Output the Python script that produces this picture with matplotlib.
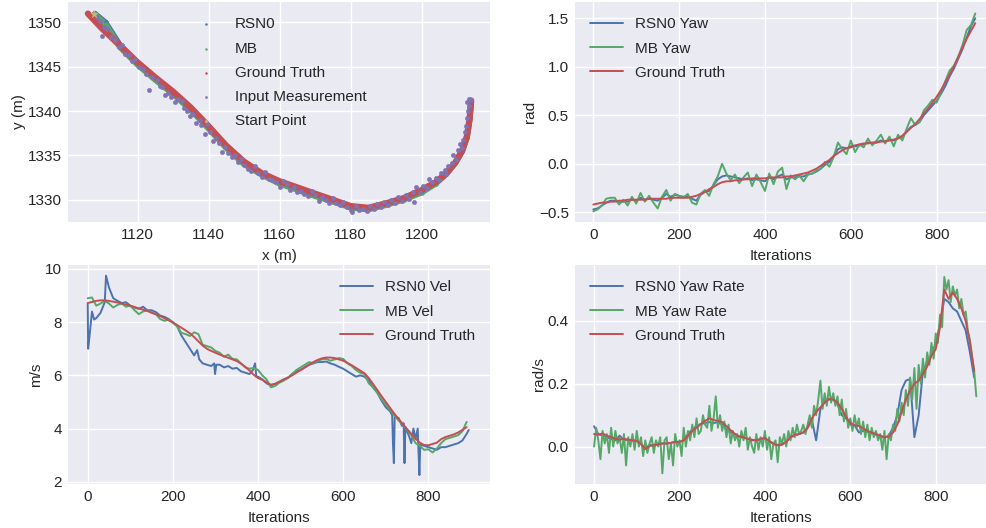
import numpy as np
import matplotlib
matplotlib.use("Agg")
import matplotlib.pyplot as plt

plt.style.use("seaborn-v0_8")
plt.rcParams["font.family"] = ["Liberation Sans", "DejaVu Sans"]
plt.rcParams["font.size"] = 11
plt.rcParams["axes.labelsize"] = 11
plt.rcParams["xtick.labelsize"] = 11
plt.rcParams["ytick.labelsize"] = 11
plt.rcParams["xtick.major.pad"] = 4.5
plt.rcParams["ytick.major.pad"] = 4.5
plt.rcParams["legend.fontsize"] = 11
plt.rcParams["legend.handlelength"] = 2.16
plt.rcParams["legend.handletextpad"] = 0.78
plt.rcParams["legend.labelspacing"] = 0.67
plt.rcParams["legend.borderaxespad"] = 0.6

BLUE, GREEN, RED, PURPLE, GOLD = "#4C72B0", "#55A868", "#C44E52", "#8172B2", "#CCB974"

# ---- trajectory (x, y in m) ----
gt_x = [1106, 1110, 1115, 1120, 1125, 1130, 1135, 1140, 1145, 1150, 1155, 1160, 1165, 1170,
        1175, 1180, 1185, 1190, 1195, 1200, 1204, 1207, 1209.5, 1211.5, 1212.8, 1213.5, 1214]
gt_y = [1351.0, 1349.3, 1347.4, 1345.5, 1343.8, 1342.2, 1340.4, 1338.3, 1336.1, 1334.3, 1333.0,
        1332.1, 1331.4, 1330.7, 1330.0, 1329.3, 1329.1, 1329.6, 1330.2, 1331.1, 1332.0, 1333.0,
        1334.2, 1335.6, 1337.2, 1339.0, 1341.2]
mb_x = [1108, 1111, 1115, 1120, 1125, 1130, 1135, 1140, 1145, 1150, 1155, 1160, 1165, 1170,
        1175, 1180, 1185, 1190, 1195, 1200, 1204, 1207, 1209.5, 1211.5, 1212.8, 1213.5, 1214]
mb_y = [1350.9, 1349.8, 1347.2, 1345.2, 1343.5, 1341.9, 1340.1, 1338.0, 1335.8, 1334.0, 1332.8,
        1331.8, 1331.1, 1330.4, 1329.8, 1329.1, 1328.9, 1329.4, 1330.0, 1330.8, 1331.8, 1332.9,
        1334.1, 1335.5, 1337.0, 1338.8, 1341.0]
rsn0_x = mb_x
rsn0_y = [1351.0, 1350.0, 1347.5, 1345.4, 1343.7, 1342.0, 1340.2, 1338.2, 1336.0, 1334.2, 1332.9,
          1332.0, 1331.2, 1330.5, 1329.9, 1329.2, 1329.0, 1329.5, 1330.1, 1331.0, 1331.9, 1332.9,
          1334.2, 1335.5, 1337.1, 1338.9, 1341.1]
meas_x = [1108.5, 1109.5, 1110.5, 1109.9, 1111.5, 1112.5, 1113.5, 1114.8, 1115.5, 1116.5, 1117.5,
          1118.5, 1119.2, 1120.5, 1121.5, 1122.5, 1123.2, 1124.0, 1125.5, 1126.2, 1127.0, 1127.8,
          1128.5, 1129.5, 1130.5, 1131.5, 1132.5, 1133.0, 1134.0, 1134.8, 1135.5, 1136.5, 1137.5,
          1138.0, 1139.0, 1139.5, 1140.5, 1141.2, 1142.0, 1143.0, 1143.8, 1144.5, 1145.5, 1146.5,
          1147.5, 1148.2, 1149.0, 1150.0, 1151.0, 1152.0, 1153.0, 1154.0, 1155.0, 1156.0, 1157.0,
          1158.0, 1159.0, 1160.0, 1161.0, 1162.0, 1163.0, 1164.0, 1165.0, 1166.0, 1167.0, 1168.0,
          1169.0, 1170.0, 1171.0, 1172.0, 1173.0, 1174.0, 1175.0, 1176.0, 1177.0, 1178.0, 1179.0,
          1180.0, 1180.5, 1181.5, 1182.5, 1183.5, 1184.5, 1185.5, 1186.5, 1187.5, 1188.5, 1189.5,
          1190.5, 1191.5, 1192.5, 1193.5, 1194.5, 1195.5, 1196.5, 1197.5, 1198.0, 1198.5, 1199.5,
          1200.5, 1201.5, 1202.0, 1203.0, 1204.0, 1205.0, 1205.5, 1206.5, 1207.0, 1207.5, 1208.5,
          1209.0, 1209.8, 1210.3, 1210.8, 1211.3, 1211.8, 1212.2, 1212.5, 1212.8, 1213.0, 1213.3,
          1213.5, 1212.9, 1214.0]
meas_y = [1350.6, 1350.2, 1349.5, 1348.5, 1349.3, 1348.4, 1348.0, 1347.2, 1347.4, 1346.4, 1346.3,
          1345.7, 1345.9, 1345.0, 1344.8, 1344.2, 1342.4, 1343.9, 1343.5, 1342.8, 1342.7, 1341.8,
          1342.0, 1341.6, 1341.0, 1341.4, 1341.1, 1340.3, 1340.0, 1339.4, 1339.7, 1338.7, 1339.0,
          1338.4, 1337.4, 1338.6, 1337.7, 1336.6, 1337.0, 1336.4, 1335.4, 1336.0, 1335.3, 1334.8,
          1335.0, 1334.3, 1334.6, 1333.9, 1333.5, 1333.2, 1333.8, 1333.0, 1332.6, 1333.1, 1332.4,
          1332.2, 1332.0, 1331.4, 1332.1, 1331.8, 1331.1, 1331.5, 1330.9, 1331.0, 1330.7, 1330.4,
          1331.0, 1330.5, 1329.9, 1330.3, 1330.0, 1329.6, 1330.2, 1329.7, 1329.4, 1329.8, 1329.2,
          1328.9, 1328.6, 1329.3, 1328.8, 1329.0, 1328.7, 1329.3, 1329.0, 1329.5, 1329.2, 1329.8,
          1329.4, 1330.0, 1329.7, 1330.3, 1329.9, 1330.6, 1330.1, 1330.9, 1329.8, 1331.4, 1330.9,
          1331.6, 1331.3, 1332.4, 1332.0, 1332.5, 1332.2, 1333.0, 1333.4, 1332.9, 1333.8, 1334.2,
          1335.1, 1334.6, 1335.6, 1336.3, 1335.8, 1336.8, 1337.6, 1338.3, 1339.2, 1340.0, 1340.6,
          1341.4, 1341.0, 1341.2]
start_x = [1107.6]
start_y = [1350.9]

# ---- yaw (rad), every 10 iterations ----
it10 = np.arange(0, 900, 10)
gt_yaw = [-0.42, -0.41, -0.40, -0.40, -0.39, -0.39, -0.38, -0.38, -0.37, -0.37,
          -0.37, -0.37, -0.37, -0.36, -0.36, -0.36, -0.36, -0.36, -0.35, -0.35,
          -0.35, -0.35, -0.35, -0.34, -0.33, -0.31, -0.29, -0.26, -0.24, -0.21,
          -0.19, -0.18, -0.18, -0.17, -0.17, -0.16, -0.16, -0.15, -0.15, -0.15,
          -0.15, -0.14, -0.14, -0.14, -0.14, -0.13, -0.13, -0.12, -0.11, -0.10,
          -0.09, -0.07, -0.05, -0.02, 0.01, 0.04, 0.08, 0.11, 0.14, 0.16,
          0.18, 0.19, 0.20, 0.21, 0.21, 0.22, 0.22, 0.23, 0.23, 0.24,
          0.25, 0.26, 0.29, 0.33, 0.37, 0.41, 0.46, 0.52, 0.57, 0.63,
          0.69, 0.76, 0.84, 0.92, 1.00, 1.10, 1.20, 1.29, 1.37, 1.45]
mb_yaw = [-0.49, -0.47, -0.43, -0.36, -0.35, -0.35, -0.42, -0.37, -0.43, -0.34,
          -0.41, -0.30, -0.39, -0.33, -0.40, -0.46, -0.34, -0.27, -0.38, -0.31,
          -0.33, -0.35, -0.31, -0.40, -0.42, -0.31, -0.27, -0.33, -0.21, -0.13,
          0.00, -0.10, -0.17, -0.11, -0.20, -0.14, -0.09, -0.23, -0.11, -0.19,
          -0.28, -0.10, -0.21, -0.08, -0.04, -0.26, -0.12, -0.16, -0.12, -0.18,
          -0.11, -0.10, -0.07, -0.05, 0.02, -0.03, 0.07, 0.22, 0.15, 0.10,
          0.24, 0.12, 0.20, 0.17, 0.26, 0.19, 0.24, 0.30, 0.21, 0.28,
          0.18, 0.30, 0.24, 0.36, 0.47, 0.40, 0.43, 0.55, 0.60, 0.66,
          0.63, 0.74, 0.85, 0.96, 1.01, 1.10, 1.22, 1.38, 1.43, 1.55]
rsn0_yaw = [-0.47, -0.46, -0.43, -0.40, -0.38, -0.38, -0.40, -0.39, -0.39, -0.37,
            -0.38, -0.35, -0.37, -0.36, -0.37, -0.38, -0.35, -0.31, -0.34, -0.32,
            -0.33, -0.34, -0.33, -0.36, -0.38, -0.32, -0.29, -0.28, -0.22, -0.16,
            -0.13, -0.12, -0.13, -0.14, -0.15, -0.16, -0.15, -0.17, -0.16, -0.17,
            -0.18, -0.14, -0.16, -0.13, -0.11, -0.16, -0.14, -0.14, -0.13, -0.13,
            -0.11, -0.10, -0.08, -0.05, -0.01, 0.02, 0.08, 0.15, 0.17, 0.16,
            0.17, 0.18, 0.19, 0.20, 0.22, 0.21, 0.22, 0.24, 0.23, 0.25,
            0.24, 0.27, 0.28, 0.33, 0.38, 0.40, 0.43, 0.50, 0.55, 0.60,
            0.65, 0.72, 0.80, 0.90, 0.98, 1.08, 1.18, 1.30, 1.42, 1.50]

# ---- velocity (m/s) ----
gt_vel = [8.72, 8.76, 8.80, 8.82, 8.82, 8.80, 8.77, 8.74, 8.70, 8.66,
          8.62, 8.57, 8.52, 8.47, 8.42, 8.36, 8.30, 8.23, 8.15, 8.07,
          7.99, 7.89, 7.79, 7.69, 7.58, 7.44, 7.28, 7.12, 7.00, 6.92,
          6.85, 6.78, 6.72, 6.66, 6.60, 6.54, 6.44, 6.32, 6.18, 6.02,
          5.90, 5.83, 5.74, 5.65, 5.68, 5.76, 5.84, 5.92, 6.00, 6.10,
          6.20, 6.30, 6.40, 6.50, 6.58, 6.64, 6.67, 6.67, 6.65, 6.60,
          6.55, 6.47, 6.38, 6.28, 6.18, 6.08, 5.90, 5.68, 5.45, 5.22,
          5.00, 4.78, 4.56, 4.36, 4.17, 3.98, 3.80, 3.62, 3.47, 3.38,
          3.37, 3.42, 3.47, 3.60, 3.68, 3.73, 3.78, 3.85, 3.95, 4.05]
mb_vel = [8.90, 8.93, 8.62, 8.70, 8.80, 8.70, 8.55, 8.65, 8.70, 8.58,
          8.62, 8.45, 8.30, 8.40, 8.45, 8.35, 8.30, 8.12, 8.05, 8.10,
          7.98, 7.85, 7.60, 7.55, 7.48, 7.62, 7.55, 7.15, 7.10, 7.05,
          6.92, 6.85, 6.70, 6.78, 6.62, 6.60, 6.45, 6.30, 6.25, 6.28,
          6.20, 6.00, 5.85, 5.55, 5.60, 5.72, 5.80, 5.90, 6.05, 6.20,
          6.30, 6.40, 6.50, 6.45, 6.55, 6.60, 6.62, 6.55, 6.60, 6.65,
          6.62, 6.45, 6.35, 6.20, 6.10, 6.05, 5.70, 5.55, 5.35, 5.10,
          4.90, 4.70, 4.50, 4.30, 4.15, 3.95, 3.75, 3.45, 3.35, 3.20,
          3.22, 3.10, 3.25, 3.45, 3.60, 3.65, 3.70, 3.75, 3.90, 4.25]
rsn0_vel_it = [0, 1, 5, 10, 15, 20, 30, 40, 43, 50, 60, 70, 80, 90, 100, 110, 120, 130, 140,
               150, 160, 170, 180, 190, 200, 210, 220, 230, 240, 250, 257, 262, 270, 280, 290,
               297, 299, 302, 310, 320, 330, 340, 350, 360, 370, 380, 388, 393, 396, 400, 410,
               420, 430, 440, 450, 460, 470, 480, 490, 500, 510, 520, 530, 540, 550, 560, 570,
               580, 590, 600, 610, 620, 630, 640, 650, 660, 670, 680, 690, 700, 710, 715, 717,
               719, 721, 730, 738, 742, 744, 746, 755, 760, 765, 770, 775, 777, 779, 781, 790,
               800, 810, 820, 830, 840, 850, 860, 870, 880, 890, 895]
rsn0_vel = [8.70, 7.00, 7.60, 8.40, 8.10, 8.15, 8.35, 8.75, 9.75, 9.30, 8.90, 8.80, 8.72, 8.75,
            8.62, 8.55, 8.50, 8.58, 8.45, 8.45, 8.38, 8.25, 8.20, 8.12, 8.00, 7.85, 7.50, 7.25,
            7.00, 6.75, 6.95, 6.60, 6.45, 6.40, 6.35, 6.45, 6.05, 6.40, 6.40, 6.30, 6.35, 6.25,
            6.28, 6.15, 6.10, 6.05, 6.20, 6.45, 5.95, 5.95, 5.85, 5.70, 5.62, 5.68, 5.75, 5.85,
            5.90, 6.05, 6.15, 6.20, 6.30, 6.40, 6.45, 6.50, 6.50, 6.52, 6.45, 6.40, 6.32, 6.25,
            6.15, 6.05, 5.95, 6.00, 5.95, 5.80, 5.55, 5.35, 5.05, 4.80, 4.65, 4.50, 3.40, 2.70,
            4.45, 4.40, 4.10, 4.20, 2.70, 4.05, 3.70, 3.45, 4.00, 3.60, 4.00, 3.10, 2.25, 3.40,
            3.35, 3.30, 3.25, 3.20, 3.30, 3.30, 3.35, 3.40, 3.45, 3.55, 3.80, 3.95]

# ---- yaw rate (rad/s) ----
gt_yr = [0.040, 0.038, 0.042, 0.035, 0.030, 0.025, 0.022, 0.025, 0.022, 0.020,
         0.018, 0.008, -0.008, 0.002, 0.004, 0.007, 0.010, 0.010, 0.012, 0.015,
         0.015, 0.020, 0.035, 0.050, 0.060, 0.072, 0.082, 0.090, 0.085, 0.082,
         0.078, 0.065, 0.052, 0.040, 0.032, 0.030, 0.025, 0.020, 0.020, 0.025,
         0.028, 0.018, 0.008, 0.004, 0.006, 0.015, 0.030, 0.038, 0.040, 0.045,
         0.060, 0.090, 0.110, 0.125, 0.140, 0.152, 0.150, 0.140, 0.120, 0.095,
         0.075, 0.068, 0.066, 0.058, 0.050, 0.045, 0.040, 0.035, 0.030, 0.032,
         0.045, 0.070, 0.110, 0.150, 0.180, 0.200, 0.210, 0.230, 0.255, 0.290,
         0.310, 0.380, 0.500, 0.470, 0.490, 0.470, 0.440, 0.400, 0.330, 0.240]
rsn0_yr = [0.065, 0.040, 0.035, 0.030, 0.025, 0.020, 0.035, 0.020, 0.022, 0.020,
           0.018, 0.008, -0.005, 0.005, 0.006, 0.008, 0.010, 0.010, 0.012, 0.015,
           0.015, 0.020, 0.040, 0.055, 0.065, 0.072, 0.075, 0.078, 0.075, 0.078,
           0.070, 0.055, 0.045, 0.040, 0.032, 0.028, 0.025, 0.022, 0.020, 0.022,
           0.025, 0.018, 0.010, 0.005, 0.008, 0.015, 0.030, 0.035, 0.040, 0.045,
           0.060, 0.085, 0.020, 0.120, 0.145, 0.150, 0.150, 0.135, 0.100, 0.090,
           0.070, 0.068, 0.045, 0.050, 0.048, 0.042, 0.038, 0.032, 0.028, 0.035,
           0.060, 0.100, 0.180, 0.210, 0.215, 0.030, 0.100, 0.240, 0.270, 0.290,
           0.330, 0.390, 0.470, 0.460, 0.440, 0.430, 0.400, 0.370, 0.300, 0.220]
it5 = np.arange(0, 900, 5)
mb_yr = [0.00, 0.06, 0.02, -0.04, 0.05, 0.01, 0.04, -0.02, 0.06, 0.00,
         0.05, 0.01, 0.03, -0.02, 0.04, -0.06, 0.03, 0.00, 0.04, -0.01,
         0.05, 0.00, 0.03, -0.03, 0.02, -0.02, 0.01, 0.03, -0.02, 0.02,
         0.00, 0.03, -0.085, 0.02, 0.03, -0.04, 0.01, -0.06, 0.04, 0.00,
         0.02, -0.03, 0.06, 0.00, 0.05, 0.02, 0.07, 0.03, 0.09, 0.04,
         0.05, 0.10, 0.07, 0.06, 0.13, 0.05, 0.09, 0.16, 0.06, 0.10,
         0.05, 0.08, 0.03, 0.07, 0.01, 0.05, 0.02, 0.04, 0.00, 0.05,
         0.02, 0.06, -0.01, 0.03, 0.00, -0.02, 0.04, -0.01, 0.03, 0.00,
         0.05, -0.01, 0.03, -0.04, 0.01, 0.02, -0.05, 0.03, 0.01, 0.04,
         0.00, 0.05, 0.02, 0.06, 0.03, 0.07, 0.04, 0.05, 0.07, 0.04,
         0.07, 0.10, 0.06, 0.13, 0.10, 0.15, 0.21, 0.12, 0.17, 0.13,
         0.19, 0.14, 0.17, 0.13, 0.16, 0.10, 0.15, 0.08, 0.12, 0.06,
         0.09, 0.05, 0.10, 0.06, 0.09, 0.04, 0.08, 0.03, 0.07, 0.02,
         0.06, 0.03, 0.05, 0.02, 0.04, -0.01, 0.05, -0.04, 0.04, 0.02,
         0.07, 0.05, 0.12, 0.08, 0.14, 0.10, 0.18, 0.13, 0.22, 0.15,
         0.25, 0.12, 0.26, 0.20, 0.28, 0.22, 0.30, 0.26, 0.33, 0.28,
         0.36, 0.33, 0.42, 0.38, 0.54, 0.50, 0.53, 0.46, 0.51, 0.48,
         0.50, 0.44, 0.47, 0.42, 0.43, 0.37, 0.34, 0.29, 0.24, 0.16]

fig = plt.figure(figsize=(9.87, 5.28), dpi=100)
ax1 = fig.add_axes([0.0689, 0.5795, 0.4276, 0.4167])
ax2 = fig.add_axes([0.5826, 0.5795, 0.4174, 0.4167])
ax3 = fig.add_axes([0.0689, 0.0833, 0.4276, 0.4148])
ax4 = fig.add_axes([0.5826, 0.0833, 0.4174, 0.4148])

# trajectory
ax1.plot(rsn0_x, rsn0_y, color=BLUE, lw=4, zorder=2)
ax1.plot(mb_x, mb_y, color=GREEN, lw=4, zorder=2)
ax1.plot(gt_x, gt_y, color=RED, lw=4.5, zorder=3)
ax1.scatter(rsn0_x, rsn0_y, s=8, color=BLUE, label="RSN0", zorder=2)
ax1.scatter(mb_x, mb_y, s=8, color=GREEN, label="MB", zorder=2)
ax1.scatter(gt_x, gt_y, s=8, color=RED, label="Ground Truth", zorder=3)
ax1.scatter(meas_x, meas_y, s=10, color=PURPLE, label="Input Measurement", zorder=4)
ax1.scatter(start_x, start_y, s=30, marker="*", color=GOLD, label="Start Point", zorder=5)
ax1.set_xlim(1100.4, 1219.3)
ax1.set_ylim(1327.5, 1352.3)
ax1.set_xticks([1120, 1140, 1160, 1180, 1200])
ax1.set_yticks([1330, 1335, 1340, 1345, 1350])
ax1.set_xlabel("x (m)", labelpad=5)
ax1.set_ylabel("y (m)", labelpad=1)
ax1.legend(loc="upper left", bbox_to_anchor=(0.252, 1.0), frameon=False, markerscale=0.5)

# yaw
ax2.plot(it10, rsn0_yaw, color=BLUE, lw=1.4, label="RSN0 Yaw")
ax2.plot(it10, mb_yaw, color=GREEN, lw=1.4, label="MB Yaw")
ax2.plot(it10, gt_yaw, color=RED, lw=1.4, label="Ground Truth")
ax2.set_xlim(-42.6, 917.3)
ax2.set_ylim(-0.6, 1.668)
ax2.set_xticks([0, 200, 400, 600, 800])
ax2.set_yticks([-0.5, 0.0, 0.5, 1.0, 1.5])
ax2.set_xlabel("Iterations", labelpad=5)
ax2.set_ylabel("rad", labelpad=1)
ax2.legend(loc="upper left", frameon=False)

# velocity
ax3.plot(rsn0_vel_it, rsn0_vel, color=BLUE, lw=1.4, label="RSN0 Vel")
ax3.plot(it10, mb_vel, color=GREEN, lw=1.4, label="MB Vel")
ax3.plot(it10, gt_vel, color=RED, lw=1.4, label="Ground Truth")
ax3.set_xlim(-46.3, 944.9)
ax3.set_ylim(1.914, 10.15)
ax3.set_xticks([0, 200, 400, 600, 800])
ax3.set_yticks([2, 4, 6, 8, 10])
ax3.set_xlabel("Iterations", labelpad=5)
ax3.set_ylabel("m/s", labelpad=1)
ax3.legend(loc="upper right", frameon=False)

# yaw rate
ax4.plot(it10, rsn0_yr, color=BLUE, lw=1.4, label="RSN0 Yaw Rate")
ax4.plot(it5, mb_yr, color=GREEN, lw=1.4, label="MB Yaw Rate")
ax4.plot(it10, gt_yr, color=RED, lw=1.4, label="Ground Truth")
ax4.set_xlim(-44.5, 920)
ax4.set_ylim(-0.119, 0.578)
ax4.set_xticks([0, 200, 400, 600, 800])
ax4.set_yticks([0.0, 0.2, 0.4])
ax4.set_xlabel("Iterations", labelpad=5)
ax4.set_ylabel("rad/s", labelpad=1)
ax4.legend(loc="upper left", frameon=False)

fig.savefig("out.png", dpi=100)
